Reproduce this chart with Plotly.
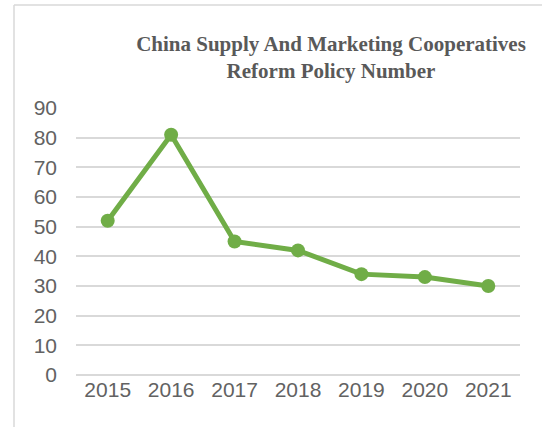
import plotly.graph_objects as go

years = ["2015", "2016", "2017", "2018", "2019", "2020", "2021"]
values = [52, 81, 45, 42, 34, 33, 30]
y_ticks = [0, 10, 20, 30, 40, 50, 60, 70, 80, 90]

W, H = 542, 427
L, R, T, B = 76, 22, 108, 52
pw, ph = W - L - R, H - T - B

fig = go.Figure()
fig.add_trace(go.Scatter(
    x=years, y=values, mode="lines+markers",
    line=dict(color="#70AD47", width=5),
    marker=dict(color="#70AD47", size=14),
    showlegend=False,
))

grid = "#D9D9D9"
fig.update_layout(
    width=W, height=H,
    margin=dict(l=L, r=R, t=T, b=B),
    paper_bgcolor="white", plot_bgcolor="white",
    title=dict(
        text="China Supply And Marketing Cooperatives<br>Reform Policy Number",
        font=dict(family="Liberation Serif", size=21, color="#595959", weight="bold"),
        x=331 / W, xanchor="center", xref="container",
        y=1 - 51 / H, yanchor="top", yref="container",
    ),
    xaxis=dict(
        type="category", range=[-0.5, 6.5], showgrid=False, showline=False,
        ticks="", tickfont=dict(family="Liberation Sans", size=21, color="#626262"),
        zeroline=False,
    ),
    yaxis=dict(
        range=[0, 90], tickvals=y_ticks, showgrid=True, gridcolor=grid, gridwidth=1.5,
        zeroline=True, zerolinecolor=grid, zerolinewidth=1.5, showline=False,
        ticks="", ticklen=0, tickfont=dict(family="Liberation Sans", size=21, color="#626262"),
        ticklabelstandoff=18,
    ),
)

# outer chart border (left and top)
x_left = (14 - L) / pw
y_top = (H - B - 5) / ph
fig.add_shape(type="line", xref="paper", yref="paper", x0=x_left, x1=x_left, y0=y_top, y1=(H - B - H - 5) / ph,
              line=dict(color=grid, width=1.5))
fig.add_shape(type="line", xref="paper", yref="paper", x0=x_left, x1=(W + 5 - L) / pw, y0=y_top, y1=y_top,
              line=dict(color=grid, width=1.5))

fig.write_html("out.html")
